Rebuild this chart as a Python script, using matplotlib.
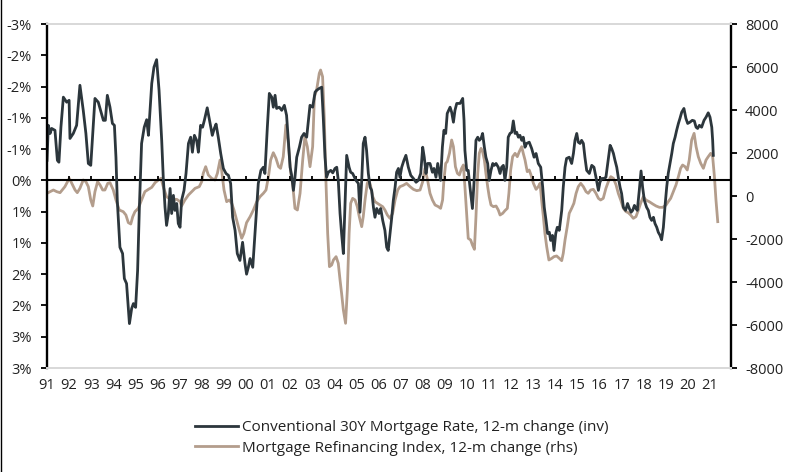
import numpy as np
import matplotlib
matplotlib.use("Agg")
import matplotlib.pyplot as plt
from matplotlib.lines import Line2D
from matplotlib.ticker import FuncFormatter, FixedLocator

# ── data ─────────────────────────────────────────────────────────────────────
# Conventional 30Y mortgage rate, 12-m change, % (axis inverted)
rate_t = [
    1991.00, 1991.06, 1991.14, 1991.21, 1991.36, 1991.47, 1991.54, 1991.63, 1991.74, 1991.89,
    1992.00, 1992.04, 1992.19, 1992.34, 1992.49, 1992.64, 1992.76, 1992.87, 1992.98, 1993.17,
    1993.32, 1993.55, 1993.64, 1993.73, 1993.85, 1993.96, 1994.05, 1994.12, 1994.18, 1994.30,
    1994.42, 1994.50, 1994.60, 1994.73, 1994.83, 1994.91, 1995.01, 1995.10, 1995.18, 1995.28,
    1995.40, 1995.51, 1995.59, 1995.66, 1995.74, 1995.84, 1995.96, 1996.07, 1996.19, 1996.26,
    1996.34, 1996.41, 1996.49, 1996.57, 1996.64, 1996.72, 1996.79, 1996.87, 1996.94, 1997.02,
    1997.09, 1997.20, 1997.29, 1997.40, 1997.50, 1997.58, 1997.67, 1997.77, 1997.85, 1997.95,
    1998.04, 1998.12, 1998.25, 1998.38, 1998.48, 1998.57, 1998.65, 1998.75, 1998.86, 1998.98,
    1999.10, 1999.21, 1999.31, 1999.40, 1999.51, 1999.61, 1999.73, 1999.85, 1999.96, 2000.03,
    2000.11, 2000.19, 2000.31, 2000.38, 2000.49, 2000.56, 2000.68, 2000.79, 2000.86, 2000.97,
    2001.06, 2001.17, 2001.24, 2001.32, 2001.39, 2001.51, 2001.62, 2001.74, 2001.84, 2001.92,
    2002.00, 2002.07, 2002.15, 2002.22, 2002.30, 2002.42, 2002.52, 2002.63, 2002.75, 2002.83,
    2002.90, 2003.02, 2003.13, 2003.20, 2003.32, 2003.43, 2003.50, 2003.58, 2003.65, 2003.73,
    2003.84, 2003.93, 2004.03, 2004.11, 2004.18, 2004.26, 2004.33, 2004.41, 2004.48, 2004.56,
    2004.67, 2004.74, 2004.83, 2004.91, 2004.98, 2005.09, 2005.16, 2005.24, 2005.31, 2005.39,
    2005.46, 2005.54, 2005.62, 2005.69, 2005.77, 2005.84, 2005.92, 2006.02, 2006.10, 2006.19,
    2006.29, 2006.37, 2006.44, 2006.52, 2006.60, 2006.67, 2006.75, 2006.82, 2006.90, 2006.97,
    2007.05, 2007.15, 2007.24, 2007.35, 2007.46, 2007.58, 2007.70, 2007.80, 2007.91, 2008.00,
    2008.07, 2008.15, 2008.22, 2008.33, 2008.44, 2008.51, 2008.60, 2008.68, 2008.75, 2008.81,
    2008.89, 2008.96, 2009.04, 2009.11, 2009.24, 2009.31, 2009.39, 2009.46, 2009.54, 2009.69,
    2009.81, 2009.87, 2009.91, 2009.99, 2010.06, 2010.14, 2010.25, 2010.32, 2010.41, 2010.49,
    2010.56, 2010.64, 2010.71, 2010.79, 2010.86, 2010.94, 2011.01, 2011.09, 2011.17, 2011.24,
    2011.32, 2011.42, 2011.50, 2011.57, 2011.65, 2011.72, 2011.80, 2011.87, 2011.95, 2012.03,
    2012.10, 2012.18, 2012.25, 2012.33, 2012.40, 2012.48, 2012.55, 2012.63, 2012.70, 2012.82,
    2012.93, 2013.04, 2013.13, 2013.23, 2013.34, 2013.43, 2013.50, 2013.58, 2013.65, 2013.73,
    2013.79, 2013.87, 2013.94, 2014.02, 2014.09, 2014.18, 2014.29, 2014.36, 2014.44, 2014.51,
    2014.63, 2014.74, 2014.82, 2014.89, 2014.97, 2015.04, 2015.12, 2015.19, 2015.27, 2015.34,
    2015.42, 2015.54, 2015.65, 2015.75, 2015.84, 2015.95, 2016.02, 2016.10, 2016.20, 2016.29,
    2016.37, 2016.48, 2016.55, 2016.63, 2016.70, 2016.78, 2016.85, 2016.93, 2017.00, 2017.08,
    2017.18, 2017.27, 2017.35, 2017.43, 2017.50, 2017.58, 2017.65, 2017.71, 2017.80, 2017.88,
    2017.95, 2018.03, 2018.13, 2018.21, 2018.28, 2018.36, 2018.44, 2018.51, 2018.59, 2018.66,
    2018.74, 2018.81, 2018.89, 2018.96, 2019.04, 2019.11, 2019.19, 2019.27, 2019.34, 2019.42,
    2019.49, 2019.57, 2019.64, 2019.72, 2019.82, 2019.91, 2019.99, 2020.09, 2020.20, 2020.29,
    2020.37, 2020.44, 2020.52, 2020.62, 2020.73, 2020.82, 2020.92, 2021.00, 2021.08, 2021.12,
    2021.15,
]
rate_chg = [
    -0.32, -0.88, -0.75, -0.83, -0.80, -0.32, -0.29, -0.85, -1.33, -1.25,
    -1.28, -0.67, -0.75, -0.88, -1.52, -1.12, -0.75, -0.27, -0.24, -1.31,
    -1.25, -0.96, -0.96, -1.36, -1.17, -0.91, -0.88, -0.37, 0.32, 1.07,
    1.17, 1.57, 1.65, 2.29, 2.05, 1.97, 2.03, 1.44, 0.43, -0.59,
    -0.85, -0.97, -0.72, -1.12, -1.55, -1.81, -1.93, -1.44, -0.64, -0.05,
    0.43, 0.72, 0.53, 0.13, 0.53, 0.24, 0.48, 0.37, 0.69, 0.75,
    0.32, 0.16, -0.11, -0.59, -0.69, -0.45, -0.72, -0.64, -0.45, -0.88,
    -0.85, -0.96, -1.16, -0.91, -0.72, -0.83, -0.90, -0.69, -0.43, -0.19,
    -0.11, -0.08, 0.05, 0.59, 0.80, 1.17, 1.28, 0.99, 1.33, 1.50,
    1.39, 1.25, 1.39, 1.01, 0.43, 0.05, -0.16, -0.21, -0.11, -0.85,
    -1.39, -1.33, -1.17, -1.36, -1.15, -1.17, -1.12, -1.20, -1.04, -0.64,
    -0.21, -0.08, 0.16, -0.05, -0.37, -0.53, -0.69, -0.75, -0.69, -0.96,
    -1.20, -1.17, -1.41, -1.44, -1.47, -1.49, -1.01, -0.37, -0.05, -0.13,
    -0.16, -0.12, -0.19, -0.21, 0.00, 0.53, 0.85, 1.17, 0.43, -0.40,
    -0.21, -0.13, -0.11, -0.05, 0.00, 0.05, 0.51, 0.00, -0.59, -0.69,
    -0.48, -0.11, 0.11, 0.16, 0.43, 0.59, 0.45, 0.53, 0.45, 0.64,
    0.80, 1.07, 1.12, 0.85, 0.59, 0.32, 0.11, -0.13, -0.19, -0.05,
    -0.21, -0.32, -0.40, -0.21, -0.08, -0.03, 0.03, 0.00, -0.11, -0.53,
    -0.37, -0.11, -0.27, -0.27, -0.13, -0.19, -0.05, -0.27, -0.13, 0.00,
    -0.53, -0.80, -0.75, -1.07, -1.17, -1.09, -0.93, -1.12, -1.23, -1.23,
    -1.31, -0.96, -0.48, -0.16, -0.16, 0.11, 0.45, 0.05, -0.64, -0.69,
    -0.64, -0.67, -0.75, -0.53, -0.37, -0.27, 0.00, -0.16, -0.27, -0.24,
    -0.27, -0.21, -0.11, -0.21, -0.24, 0.00, -0.21, -0.69, -0.75, -0.77,
    -0.95, -0.75, -0.77, -0.69, -0.72, -0.64, -0.69, -0.53, -0.59, -0.61,
    -0.51, -0.37, -0.43, -0.27, -0.21, 0.11, 0.43, 0.64, 0.85, 0.83,
    0.96, 0.88, 1.12, 0.85, 0.75, 0.80, 0.48, 0.11, -0.21, -0.35,
    -0.37, -0.27, -0.43, -0.64, -0.75, -0.61, -0.59, -0.64, -0.59, -0.37,
    -0.16, -0.11, -0.24, -0.21, -0.05, 0.16, 0.03, -0.03, -0.03, -0.05,
    -0.27, -0.56, -0.51, -0.43, -0.32, -0.21, -0.05, 0.11, 0.21, 0.43,
    0.48, 0.37, 0.45, 0.51, 0.48, 0.40, 0.45, 0.48, 0.16, -0.15,
    0.11, 0.32, 0.43, 0.48, 0.59, 0.64, 0.59, 0.69, 0.75, 0.83,
    0.88, 0.95, 0.75, 0.43, 0.11, -0.11, -0.27, -0.43, -0.59, -0.69,
    -0.80, -0.91, -0.99, -1.09, -1.15, -0.99, -0.91, -0.93, -0.96, -0.95,
    -0.85, -0.83, -0.88, -0.85, -0.96, -1.01, -1.08, -1.01, -0.85, -0.64,
    -0.40,
]

# Mortgage refinancing index, 12-m change (rhs)
refi_t = [
    1991.00, 1991.14, 1991.29, 1991.44, 1991.59, 1991.81, 1992.01, 1992.12, 1992.27, 1992.37,
    1992.49, 1992.64, 1992.76, 1992.87, 1992.98, 1993.07, 1993.17, 1993.29, 1993.40, 1993.52,
    1993.62, 1993.75, 1993.85, 1994.00, 1994.12, 1994.27, 1994.45, 1994.57, 1994.68, 1994.79,
    1994.88, 1994.98, 1995.13, 1995.28, 1995.43, 1995.59, 1995.74, 1995.89, 1996.04, 1996.16,
    1996.26, 1996.41, 1996.57, 1996.72, 1996.87, 1997.02, 1997.09, 1997.24, 1997.40, 1997.55,
    1997.70, 1997.89, 1998.00, 1998.07, 1998.18, 1998.30, 1998.45, 1998.60, 1998.71, 1998.83,
    1998.90, 1999.01, 1999.13, 1999.25, 1999.36, 1999.46, 1999.58, 1999.70, 1999.81, 1999.91,
    2000.03, 2000.19, 2000.34, 2000.49, 2000.64, 2000.79, 2000.91, 2001.02, 2001.12, 2001.24,
    2001.36, 2001.48, 2001.57, 2001.69, 2001.81, 2001.92, 2002.03, 2002.12, 2002.22, 2002.33,
    2002.45, 2002.57, 2002.67, 2002.78, 2002.90, 2003.02, 2003.10, 2003.20, 2003.32, 2003.38,
    2003.47, 2003.55, 2003.62, 2003.70, 2003.78, 2003.88, 2003.96, 2004.08, 2004.18, 2004.26,
    2004.33, 2004.41, 2004.51, 2004.59, 2004.67, 2004.74, 2004.83, 2004.94, 2005.04, 2005.13,
    2005.24, 2005.31, 2005.39, 2005.49, 2005.57, 2005.65, 2005.74, 2005.84, 2005.95, 2006.07,
    2006.19, 2006.29, 2006.40, 2006.52, 2006.64, 2006.75, 2006.87, 2006.97, 2007.12, 2007.27,
    2007.43, 2007.58, 2007.73, 2007.88, 2008.00, 2008.10, 2008.22, 2008.33, 2008.44, 2008.56,
    2008.71, 2008.81, 2008.90, 2008.96, 2009.04, 2009.11, 2009.21, 2009.31, 2009.39, 2009.48,
    2009.57, 2009.66, 2009.76, 2009.84, 2009.91, 2009.99, 2010.06, 2010.17, 2010.25, 2010.34,
    2010.41, 2010.49, 2010.56, 2010.64, 2010.71, 2010.79, 2010.86, 2010.94, 2011.01, 2011.09,
    2011.20, 2011.32, 2011.42, 2011.50, 2011.62, 2011.72, 2011.83, 2011.90, 2011.98, 2012.07,
    2012.18, 2012.28, 2012.37, 2012.48, 2012.55, 2012.63, 2012.73, 2012.82, 2012.90, 2013.01,
    2013.13, 2013.23, 2013.31, 2013.38, 2013.46, 2013.53, 2013.61, 2013.71, 2013.84, 2013.94,
    2014.06, 2014.18, 2014.29, 2014.36, 2014.44, 2014.54, 2014.63, 2014.74, 2014.84, 2014.94,
    2015.04, 2015.15, 2015.27, 2015.39, 2015.49, 2015.60, 2015.72, 2015.84, 2015.95, 2016.05,
    2016.17, 2016.29, 2016.40, 2016.51, 2016.63, 2016.75, 2016.85, 2016.96, 2017.08, 2017.20,
    2017.30, 2017.41, 2017.53, 2017.65, 2017.76, 2017.86, 2017.98, 2018.10, 2018.25, 2018.41,
    2018.56, 2018.71, 2018.86, 2019.01, 2019.11, 2019.22, 2019.34, 2019.46, 2019.57, 2019.67,
    2019.76, 2019.87, 2019.97, 2020.06, 2020.17, 2020.28, 2020.37, 2020.47, 2020.58, 2020.70,
    2020.82, 2020.92, 2021.03, 2021.12, 2021.20, 2021.27, 2021.35,
]
refi_chg = [
    124, 202, 279, 202, 155, 434, 822, 589, 279, 155,
    357, 744, 667, 434, -186, -465, 202, 667, 512, 279,
    279, 589, 620, 279, -186, -651, -729, -884, -1240, -1302,
    -961, -729, -574, -186, 202, 310, 403, 620, 744, 822,
    434, -31, -155, -155, -155, -264, -465, -186, 47, 202,
    357, 434, 667, 1054, 1364, 977, 822, 744, 1054, 1674,
    1209, 279, -264, -186, -341, -651, -1116, -1581, -1969, -1736,
    -1240, -961, -651, -264, -31, 124, 279, 899, 1674, 2015,
    1752, 1364, 1287, 1829, 3302, 2449, 1054, 512, -574, -651,
    124, 1674, 2759, 2294, 1364, 2294, 4619, 4929, 5704, 5859,
    5549, 3534, 744, -1736, -3286, -3209, -2976, -2821, -3131, -3906,
    -4526, -5301, -5921, -4371, -1736, -341, -109, -186, -496, -961,
    -1426, -961, -186, 589, 744, 434, -31, -264, -341, -419,
    -496, -651, -884, -1039, -806, -186, 279, 434, 496, 589,
    434, 310, 248, 279, 667, 1287, 744, 124, -186, -419,
    -496, -574, -186, 744, 1519, 1597, 1984, 2604, 2294, 1364,
    1054, 977, 1287, 1442, 434, -806, -1969, -2046, -2279, -2480,
    -961, 1054, 1984, 2217, 2062, 1674, 1054, 434, -31, -419,
    -496, -465, -651, -884, -806, -682, -574, 124, 1209, 1829,
    1984, 1829, 2062, 2294, 1984, 1674, 1132, 1209, 977, 589,
    310, 434, 589, -186, -961, -1736, -2356, -2976, -2899, -2821,
    -2790, -2899, -3007, -2666, -2046, -1426, -806, -574, -341, 124,
    434, 589, 434, 202, 124, 279, 310, 124, -109, -186,
    -109, 357, 667, 899, 822, 512, 124, -186, -574, -729,
    -775, -884, -1039, -961, -651, -341, -31, -186, -264, -372,
    -465, -527, -527, -419, -264, -109, 202, 512, 899, 1287,
    1442, 1364, 1209, 1674, 2604, 2914, 2294, 1829, 1519, 1287,
    1674, 1829, 1984, 1829, 899, -186, -1194,
]

years = list(range(1991, 2022))
year_labels = [f"{y % 100:02d}" for y in years]
pct_ticks = [-2.5, -2.0, -1.5, -1.0, -0.5, 0.0, 0.5, 1.0, 1.5, 2.0, 2.5, 3.0]
rhs_ticks = [-8000, -6000, -4000, -2000, 0, 2000, 4000, 6000, 8000]

# ── style ────────────────────────────────────────────────────────────────────
DARK = "#2c363c"
TAN = "#b39d8c"
GREY = "#d9d9d9"
TXT = "#222222"
plt.rcParams["font.family"] = ["Open Sans", "DejaVu Sans"]
plt.rcParams["axes.unicode_minus"] = False


def pct_fmt(v, _):
    # Excel style 0% format: rounds half away from zero
    r = int(np.sign(v) * np.floor(abs(v) + 0.5 + 1e-9))
    return f"{r}%"


fig = plt.figure(figsize=(7.92, 4.72), dpi=100)
ax = fig.add_axes([47 / 792, 1 - 368 / 472, (731 - 47) / 792, (368 - 24) / 472])
ax2 = ax.twinx()

ax.plot(rate_t, rate_chg, color=DARK, lw=2.0, solid_joinstyle="round")
ax2.plot(refi_t, refi_chg, color=TAN, lw=2.0, solid_joinstyle="round")

# dark series drawn over the tan one
ax.set_zorder(ax2.get_zorder() + 1)
ax.patch.set_visible(False)

ax.set_xlim(1991.0, 2021.95)
ax.set_ylim(3.0, -2.5)
ax2.set_ylim(-8000, 8000)

ax.axhline(0, color="black", lw=1.5, zorder=1)

ax.yaxis.set_major_locator(FixedLocator(pct_ticks))
ax.yaxis.set_major_formatter(FuncFormatter(pct_fmt))
ax2.yaxis.set_major_locator(FixedLocator(rhs_ticks))

ax.set_xticks(years)
ax.set_xticklabels(year_labels)
ax.tick_params(axis="x", length=0, pad=7, labelsize=10.5, colors=TXT)
ax.tick_params(axis="y", direction="out", length=4, width=1.3, pad=7,
               labelsize=10.5, colors=TXT)
ax2.tick_params(axis="y", direction="out", length=4, width=1.3, pad=6,
                labelsize=10.5, colors=TXT)
for a in (ax, ax2):
    a.tick_params(axis="y", color="black")

# small year ticks on the zero line
zero_frac = (0 - 3.0) / (-2.5 - 3.0)
sec = ax.secondary_xaxis(zero_frac)
sec.set_xticks(years)
sec.tick_params(direction="out", length=3, width=1.3, labelbottom=False,
                labeltop=False, color="black")
sec.spines["bottom"].set_visible(False)
sec.spines["top"].set_visible(False)

for a in (ax, ax2):
    a.spines["top"].set_color(GREY)
    a.spines["bottom"].set_color(GREY)
    a.spines["top"].set_linewidth(1.4)
    a.spines["bottom"].set_linewidth(1.4)
ax.spines["left"].set_linewidth(1.7)
ax2.spines["right"].set_linewidth(1.7)
ax2.spines["left"].set_visible(False)
ax.spines["right"].set_visible(False)

handles = [Line2D([], [], color=DARK, lw=2.0), Line2D([], [], color=TAN, lw=2.0)]
labels = ["Conventional 30Y Mortgage Rate, 12-m change (inv)",
          "Mortgage Refinancing Index, 12-m change (rhs)"]
fig.legend(handles, labels, loc="center", bbox_to_anchor=(402 / 792, 1 - 438 / 472),
           frameon=False, fontsize=11, handlelength=2.8, handletextpad=0.3,
           labelspacing=0.35, labelcolor=TXT, borderpad=0.2)

# thin frame line at the left edge of the image
fig.add_artist(Line2D([0.0008, 0.0008], [0, 1], color="black", lw=1.0,
                      transform=fig.transFigure))

fig.savefig("out.png", dpi=100, facecolor="white")
